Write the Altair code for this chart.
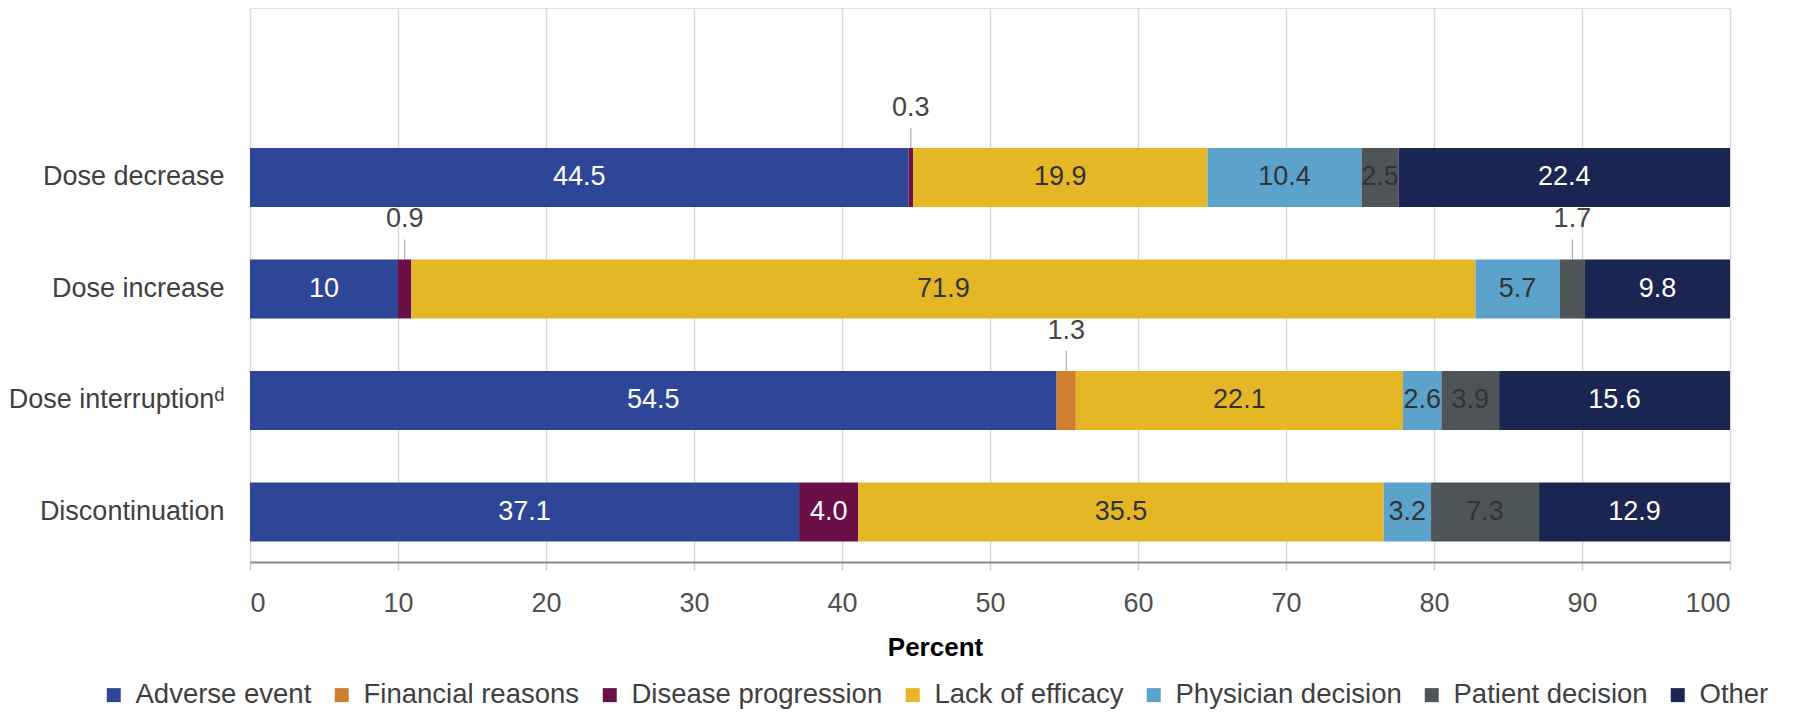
import altair as alt
import pandas as pd

categories = ["Dose decrease", "Dose increase", "Dose interruptionᵈ", "Discontinuation"]
reasons = ["Adverse event", "Financial reasons", "Disease progression",
           "Lack of efficacy", "Physician decision", "Patient decision", "Other"]
dose_decrease = [44.5, 0, 0.3, 19.9, 10.4, 2.5, 22.4]
dose_increase = [10, 0, 0.9, 71.9, 5.7, 1.7, 9.8]
dose_interruption = [54.5, 1.3, 0, 22.1, 2.6, 3.9, 15.6]
discontinuation = [37.1, 0, 4.0, 35.5, 3.2, 7.3, 12.9]
colors = ["#2E4698", "#D07F2F", "#6B0F47", "#E5B727", "#5BA3CB", "#4D5558", "#1B2551"]
x_ticks = [0, 10, 20, 30, 40, 50, 60, 70, 80, 90, 100]

rows = []
for cat, vals in zip(categories, [dose_decrease, dose_increase, dose_interruption, discontinuation]):
    cum = 0.0
    for i, (r, v) in enumerate(zip(reasons, vals)):
        rows.append(dict(cat=cat, reason=r, order=i, value=float(v),
                         start=cum, end=cum + v, mid=cum + v / 2, label=str(v)))
        cum += v
df = pd.DataFrame(rows)

FONT = "Liberation Sans"

yenc = alt.Y("cat:N", title=None,
             scale=alt.Scale(domain=categories, paddingInner=0.471, paddingOuter=0.72, align=0.872),
             axis=alt.Axis(domain=False, ticks=False, labelFontSize=27, labelColor="#404040",
                           labelPadding=26, minExtent=235, maxExtent=235, labelFont=FONT,
                           labelLimit=0))

xscale = alt.Scale(domain=[0, 100], nice=False)
xaxis = alt.Axis(values=x_ticks, grid=True, gridColor="#d9d9d9", gridWidth=1.5,
                 domainColor="#8a8a8a", domainWidth=2, tickColor="#cfcfcf", tickSize=8, tickWidth=1.5,
                 labelFontSize=27, labelColor="#505050", labelPadding=20, labelFont=FONT,
                 title="Percent", titleFontSize=26, titleFontWeight="bold", titleColor="#000000",
                 titleFont=FONT, titleX=685, titleY=93, titleBaseline="alphabetic", titleAlign="center")

base = alt.Chart(df)

bars = base.transform_filter("datum.value > 0").mark_bar().encode(
    x=alt.X("start:Q", scale=xscale, axis=xaxis),
    x2="end:Q",
    y=yenc,
    color=alt.Color("reason:N", scale=alt.Scale(domain=reasons, range=colors),
                    legend=alt.Legend(title=None, orient="none", legendX=-150, legendY=673,
                                      direction="horizontal", columns=7, symbolType="square",
                                      symbolSize=196, symbolStrokeWidth=0, labelOffset=8,
                                      columnPadding=16, labelFontSize=27.5, labelColor="#404040",
                                      labelFont=FONT, padding=0, labelLimit=0)),
    order=alt.Order("order:Q"),
)

inside = base.transform_filter("datum.value >= 2").mark_text(
    fontSize=27, font=FONT, baseline="middle", align="center"
).encode(
    x=alt.X("mid:Q", scale=xscale),
    y=alt.Y("cat:N", scale=alt.Scale(domain=categories)),
    text="label:N",
    color=alt.condition(
        "datum.reason == 'Adverse event' || datum.reason == 'Disease progression' || datum.reason == 'Other'",
        alt.value("#ffffff"), alt.value("#333333")),
)

outside = base.transform_filter("datum.value > 0 && datum.value < 2").mark_text(
    fontSize=27, font=FONT, baseline="middle", align="center", color="#444444", yOffset=-69.5
).encode(
    x=alt.X("mid:Q", scale=xscale),
    y=alt.Y("cat:N", scale=alt.Scale(domain=categories)),
    text="label:N",
)

leader = base.transform_filter("datum.value > 0 && datum.value < 2").mark_tick(
    orient="vertical", size=20, thickness=1, color="#777777", yOffset=-39.5
).encode(
    x=alt.X("mid:Q", scale=xscale),
    y=alt.Y("cat:N", scale=alt.Scale(domain=categories)),
)

chart = alt.layer(bars, inside, leader, outside).properties(
    width=1480, height=554,
    padding={"left": 0, "top": 0, "right": 0, "bottom": 0},
).configure_view(strokeWidth=0).configure(font=FONT)

chart.save("out.html", embed_options={"renderer": "svg", "actions": False})
